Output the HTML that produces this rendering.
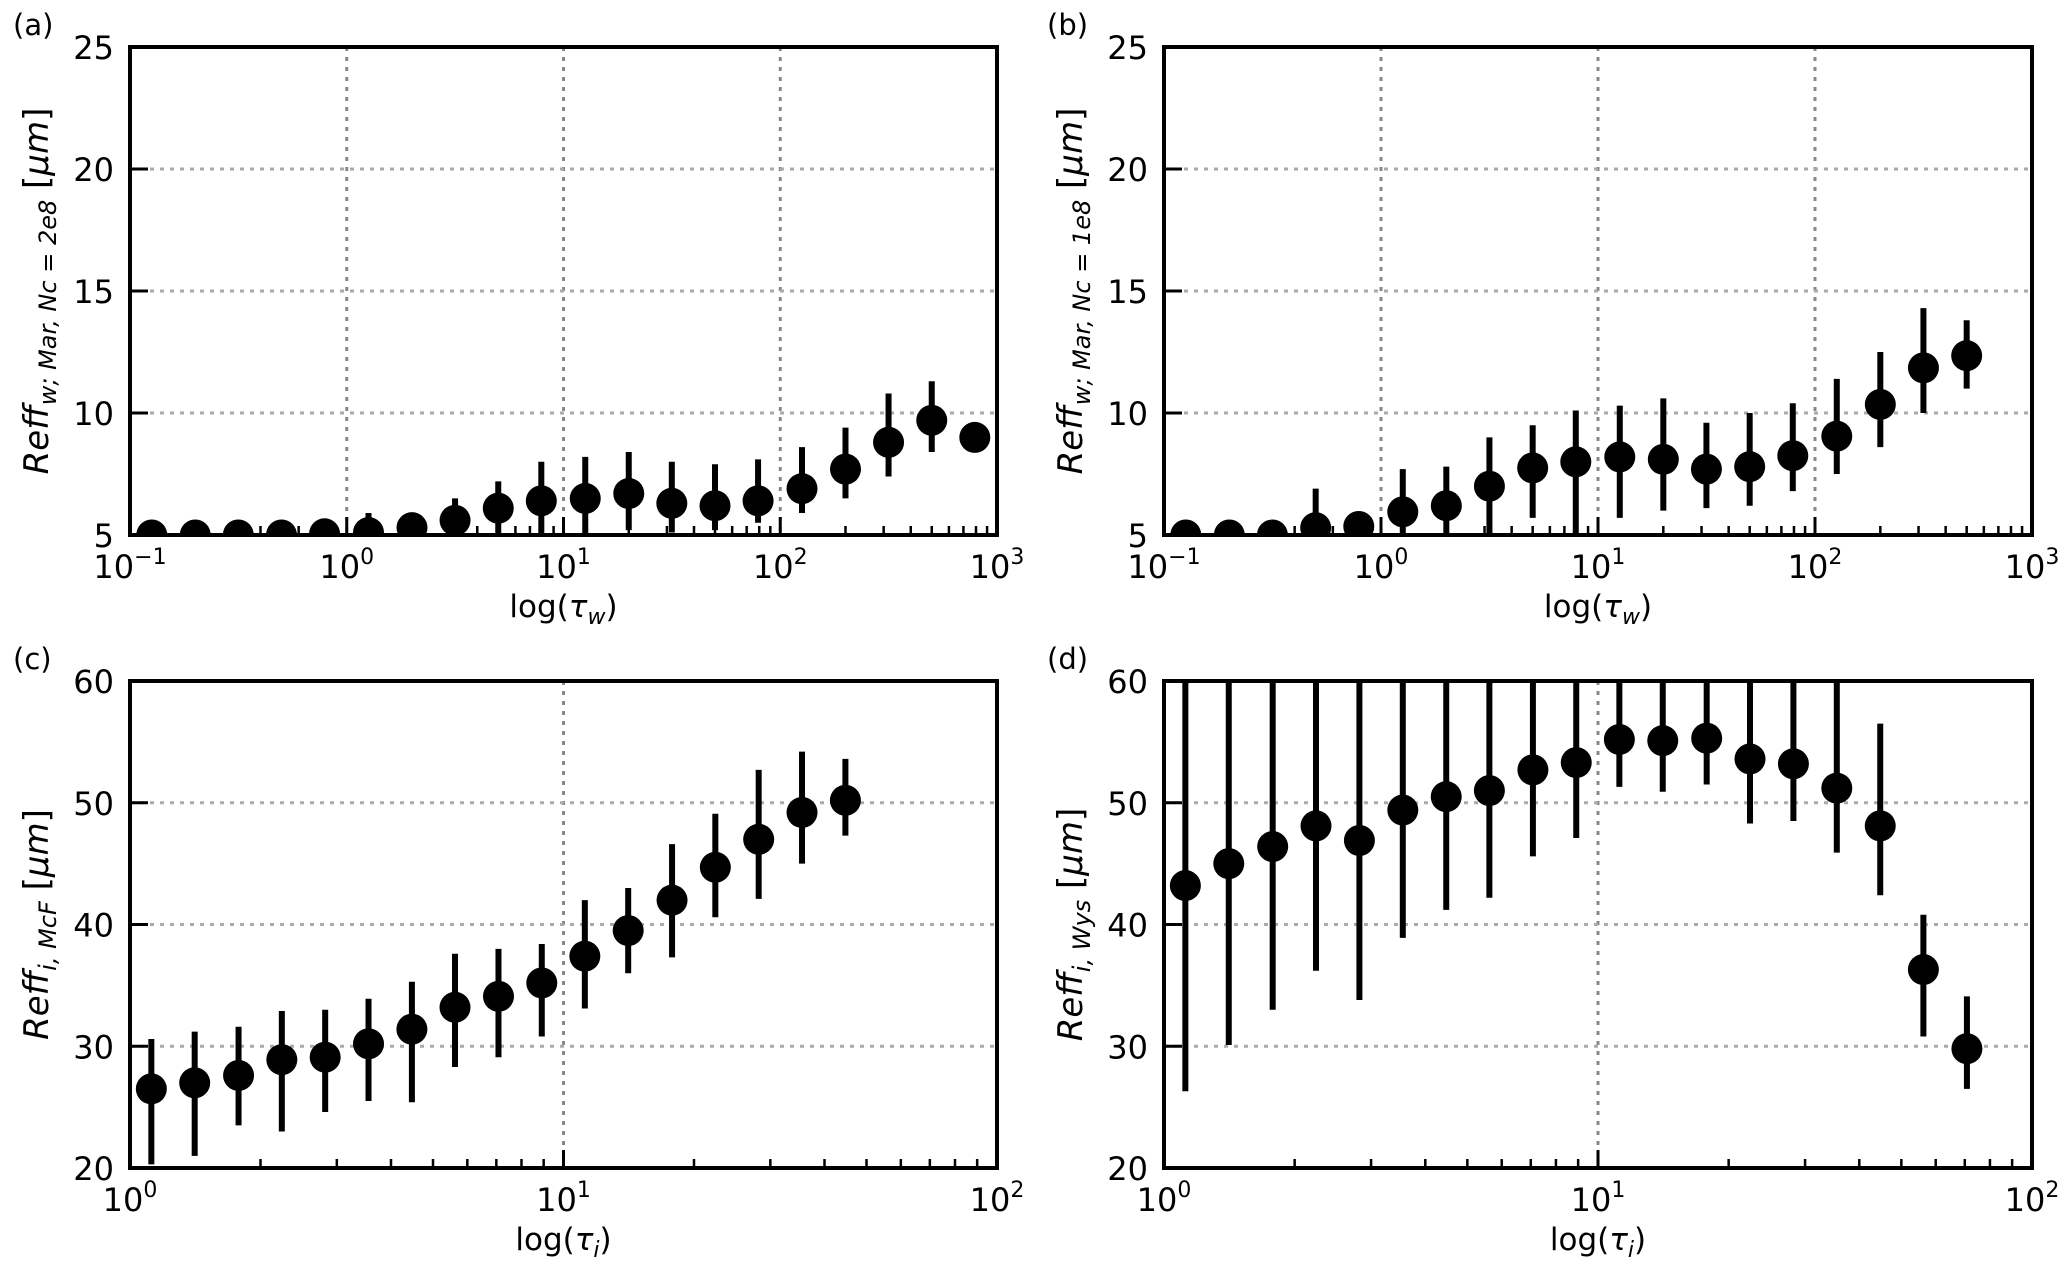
<!DOCTYPE html>
<html><head><meta charset="utf-8"><style>
body{margin:0;background:#fff}
svg{display:block}
text{font-family:"DejaVu Sans","Liberation Sans",sans-serif;fill:#000}
</style></head><body>
<svg id="fig" width="2067" height="1272" viewBox="0 0 2067 1272" xmlns="http://www.w3.org/2000/svg"></svg>
<script>
// ---- data ----
const xA = [0.126,0.2,0.316,0.5,0.79,1.26,2,3.16,5,7.9,12.6,20,31.6,50,79,126,200,316,500,790];
const yA = [5.0,5.0,5.0,5.0,5.05,5.1,5.3,5.6,6.1,6.4,6.5,6.7,6.3,6.2,6.4,6.9,7.7,8.8,9.7,9.0];
const loA = [5.0,5.0,5.0,5.0,5.0,4.8,5.3,5.0,5.0,5.0,5.0,5.2,5.1,5.2,5.5,5.9,6.5,7.4,8.4,9.0];
const hiA = [5.0,5.0,5.0,5.0,5.1,5.9,5.3,6.5,7.2,8.0,8.2,8.4,8.0,7.9,8.1,8.6,9.4,10.8,11.3,9.0];
const xB = [0.126,0.2,0.316,0.5,0.79,1.26,2,3.16,5,7.9,12.6,20,31.6,50,79,126,200,316,500];
const yB = [5.0,5.0,5.0,5.3,5.35,5.95,6.2,7.0,7.75,8.0,8.2,8.1,7.7,7.8,8.25,9.05,10.35,11.85,12.35];
const loB = [5.0,5.0,5.0,4.0,5.0,4.5,5.0,5.0,5.7,5.0,5.7,6.0,6.1,6.2,6.8,7.5,8.6,10.0,11.0];
const hiB = [5.0,5.0,5.0,6.9,5.9,7.7,7.8,9.0,9.5,10.1,10.3,10.6,9.6,10.0,10.4,11.4,12.5,14.3,13.8];
const xC = [1.12,1.41,1.78,2.24,2.82,3.55,4.47,5.62,7.08,8.91,11.2,14.1,17.8,22.4,28.2,35.5,44.7];
const yC = [26.5,27.0,27.6,28.9,29.1,30.2,31.4,33.2,34.1,35.2,37.4,39.5,42.0,44.7,47.0,49.2,50.2];
const loC = [20.3,21.0,23.5,23.0,24.6,25.5,25.4,28.3,29.1,30.8,33.1,36.0,37.3,40.6,42.1,45.0,47.3];
const hiC = [30.6,31.2,31.6,32.9,33.0,33.9,35.3,37.6,38.0,38.4,42.0,43.0,46.6,49.1,52.7,54.2,53.6];
const xD = [1.12,1.41,1.78,2.24,2.82,3.55,4.47,5.62,7.08,8.91,11.2,14.1,17.8,22.4,28.2,35.5,44.7,56.2,70.8];
const yD = [43.2,45.0,46.4,48.1,46.9,49.4,50.5,51.0,52.7,53.3,55.2,55.1,55.3,53.6,53.2,51.2,48.1,36.3,29.8];
const loD = [26.3,30.1,33.0,36.2,33.8,38.9,41.2,42.2,45.6,47.1,51.3,50.9,51.5,48.3,48.5,45.9,42.4,30.8,26.5];
const hiD = [70,70,70,70,70,70,70,70,70,70,70,70,70,70,70,70,56.5,40.8,34.1];
const yTicksW = [5,10,15,20,25];
const yTicksI = [20,30,40,50,60];

const NS="http://www.w3.org/2000/svg";
const svg=document.getElementById('fig');
function mk(tag,attrs,parent){const e=document.createElementNS(NS,tag);for(const k in attrs)e.setAttribute(k,attrs[k]);(parent||svg).appendChild(e);return e;}

const panels=[
 {id:'a',x0:130,x1:997,y0:47,y1:535,lx:[-1,3],ly:[5,25],xs:xA,ys:yA,lo:loA,hi:hiA,yt:yTicksW,gx:[0,1,2],gy:[10,15,20],xlab:'w',ylab:['Reff','w; Mar, Nc = 2e8',' [μm]']},
 {id:'b',x0:1164,x1:2032,y0:47,y1:535,lx:[-1,3],ly:[5,25],xs:xB,ys:yB,lo:loB,hi:hiB,yt:yTicksW,gx:[0,1,2],gy:[10,15,20],xlab:'w',ylab:['Reff','w; Mar, Nc = 1e8',' [μm]']},
 {id:'c',x0:130,x1:997,y0:681,y1:1168,lx:[0,2],ly:[20,60],xs:xC,ys:yC,lo:loC,hi:hiC,yt:yTicksI,gx:[1],gy:[30,40,50],xlab:'i',ylab:['Reff','i, McF',' [μm]']},
 {id:'d',x0:1164,x1:2032,y0:681,y1:1168,lx:[0,2],ly:[20,60],xs:xD,ys:yD,lo:loD,hi:hiD,yt:yTicksI,gx:[1],gy:[30,40,50],xlab:'i',ylab:['Reff','i, Wys',' [μm]']}
];

panels.forEach(p=>{
 const g=mk('g',{});
 
 
 const X=v=>p.x0+(Math.log10(v)-p.lx[0])/(p.lx[1]-p.lx[0])*(p.x1-p.x0);
 const XL=l=>p.x0+(l-p.lx[0])/(p.lx[1]-p.lx[0])*(p.x1-p.x0);
 const Y=v=>p.y1-(v-p.ly[0])/(p.ly[1]-p.ly[0])*(p.y1-p.y0);
 const clip=mk('clipPath',{id:'clip'+p.id},g);
 mk('rect',{x:p.x0,y:p.y0,width:p.x1-p.x0,height:p.y1-p.y0},clip);
 p.gx.forEach(l=>{const e=mk('line',{x1:XL(l),x2:XL(l),y1:p.y0,y2:p.y1,stroke:'#888','stroke-width':3,'stroke-dasharray':'4 6'},g);
  });
 p.gy.forEach(v=>{const e=mk('line',{x1:p.x0,x2:p.x1,y1:Y(v),y2:Y(v),stroke:'#aaa','stroke-width':3,'stroke-dasharray':'4 6'},g);
  });
 const dg=mk('g',{'clip-path':'url(#clip'+p.id+')'},g);
 
 p.xs.forEach((xv,i)=>{
  const eb=mk('line',{x1:X(xv),x2:X(xv),y1:Y(p.lo[i]),y2:Y(p.hi[i]),stroke:'#000','stroke-width':6},dg);
  
  const c=mk('circle',{cx:X(xv),cy:Y(p.ys[i]),r:15.5,fill:'#000'},dg);
  
 });
 for(let d=p.lx[0];d<=p.lx[1];d++){
  const e=mk('line',{x1:XL(d),x2:XL(d),y1:p.y1,y2:p.y1-18,stroke:'#000','stroke-width':3},g);
  
  if(d<p.lx[1])for(let m=2;m<=9;m++){const xm=XL(d+Math.log10(m));
   const t=mk('line',{x1:xm,x2:xm,y1:p.y1,y2:p.y1-9,stroke:'#000','stroke-width':2.5},g);
   }
  const tx=mk('text',{x:XL(d),y:p.y1+43,'font-size':32,'text-anchor':'middle'},g);
  
  tx.innerHTML='10<tspan dy="-14" font-size="22">'+(d<0?'−'+(-d):d)+'</tspan>';
 }
 p.yt.forEach(v=>{
  const e=mk('line',{x1:p.x0,x2:p.x0+18,y1:Y(v),y2:Y(v),stroke:'#000','stroke-width':3},g);
  
  const t=mk('text',{x:p.x0-16,y:Y(v)+12,'font-size':32,'text-anchor':'end'},g);
  
  t.textContent=v;
 });
 const fr=mk('rect',{x:p.x0,y:p.y0,width:p.x1-p.x0,height:p.y1-p.y0,fill:'none',stroke:'#000','stroke-width':4},g);
 
 const xl=mk('text',{x:(p.x0+p.x1)/2,y:p.y1+82,'font-size':31,'text-anchor':'middle'},g);
 
 xl.innerHTML='log(<tspan font-style="italic">τ</tspan><tspan font-style="italic" font-size="22" dy="7">'+p.xlab+'</tspan><tspan dy="-7">)</tspan>';
 const cy=(p.y0+p.y1)/2, cx=p.x0-82;
 const yl=mk('text',{x:cx,y:cy,'font-size':34,'text-anchor':'middle',transform:'rotate(-90 '+cx+' '+cy+')'},g);
 
 yl.innerHTML='<tspan font-style="italic">'+p.ylab[0]+'</tspan><tspan font-style="italic" font-size="24" dy="8">'+p.ylab[1]+'</tspan><tspan dy="-8">'+p.ylab[2].replace('μm','<tspan font-style="italic">μm</tspan>')+'</tspan>';
 const pl=mk('text',{x:p.x0-117,y:p.y0-12,'font-size':29,fill:'#222'},g);
 
 pl.textContent='('+p.id+')';
});
</script>
</body></html>
